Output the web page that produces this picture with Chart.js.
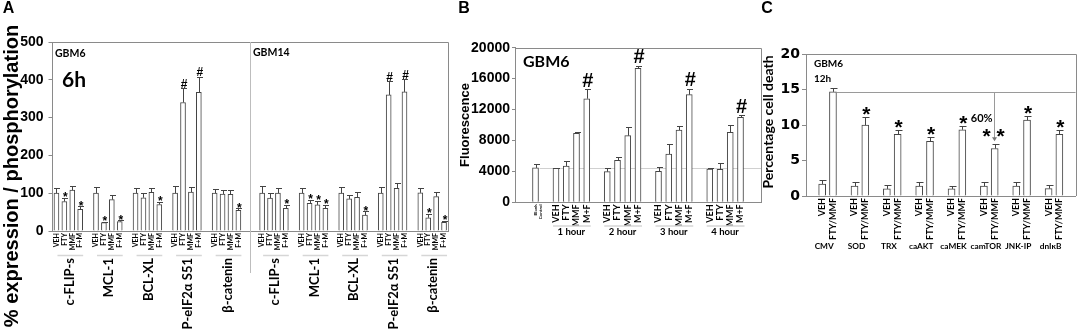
<!DOCTYPE html>
<html><head><meta charset="utf-8">
<script src="https://cdn.jsdelivr.net/npm/chart.js@4"></script>
<style>
html,body{margin:0;padding:0;background:#fff;}
#wrap{position:relative;width:1083px;height:334px;overflow:hidden;background:#fff;}
canvas{position:absolute;left:0;top:0;}
</style></head><body>
<div id="wrap">
<canvas id="cA" width="1083" height="334"></canvas>
<canvas id="cB" width="1083" height="334"></canvas>
<canvas id="cC" width="1083" height="334"></canvas>
</div>
<script>
// ---------------- Panel A data ----------------
const aTreatments = ['VEH', 'FTY', 'MMF', 'F+M'];
const aTargets = ['c-FLIP-s', 'MCL-1', 'BCL-XL', 'P-eIF2α S51', 'β-catenin'];
const aLines = ['GBM6', 'GBM14'];
const aGbm6Values = [100, 78, 108, 57, 100, 22, 83, 25, 100, 88, 102, 70, 100, 340, 103, 367, 100, 98, 97, 55];
const aGbm6Errors = [15, 9, 12, 8, 16, 3, 12, 3, 14, 12, 13, 6, 18, 37, 14, 40, 12, 11, 12, 5];
const aGbm6Marks = ['', '*', '', '*', '', '*', '', '*', '', '', '', '*', '', '#', '', '#', '', '', '', '*'];
const aGbm14Values = [100, 87, 100, 60, 100, 73, 69, 60, 100, 85, 89, 42, 100, 360, 113, 368, 101, 35, 91, 23];
const aGbm14Errors = [18, 13, 13, 10, 15, 9, 10, 9, 16, 10, 13, 10, 16, 36, 13, 33, 14, 10, 11, 3];
const aGbm14Marks = ['', '', '', '*', '', '*', '*', '*', '', '', '', '*', '', '#', '', '#', '', '*', '', '*'];
const aYTicks = [0, 100, 200, 300, 400, 500];

// ---------------- Panel B data ----------------
const bHours = ['1 hour', '2 hour', '3 hour', '4 hour'];
const bTreatments = ['VEH', 'FTY', 'MMF', 'M+F'];
const bBlankLabel = ['Blank', 'Control'];
const bBlankValue = 4450;
const bBlankError = 500;
const bValues = [4400, 4700, 8930, 13400, 3960, 5430, 8620, 17330, 4010, 6250, 9350, 13920, 4310, 4270, 9060, 11000];
const bErrors = [100, 700, 150, 1200, 450, 400, 1100, 300, 550, 1300, 500, 700, 100, 750, 900, 250];
const bMarks = ['', '', '', '#', '', '', '', '#', '', '', '', '#', '', '', '', '#'];
const bYTicks = [0, 2000, 4000, 6000, 8000, 10000, 12000, 14000, 16000, 18000, 20000];

// ---------------- Panel C data ----------------
const cConstructs = ['CMV', 'SOD', 'TRX', 'caAKT', 'caMEK', 'camTOR', 'JNK-IP', 'dnIκB'];
const cTreatments = ['VEH', 'FTY/MMF'];
const cVehValues = [1.7, 1.4, 1.0, 1.4, 1.0, 1.4, 1.4, 1.05];
const cVehErrors = [0.6, 0.6, 0.6, 0.6, 0.45, 0.6, 0.6, 0.45];
const cComboValues = [14.7, 10.0, 8.7, 7.7, 9.35, 6.7, 10.7, 8.7];
const cComboErrors = [0.6, 1.1, 0.6, 0.6, 0.6, 0.6, 0.6, 0.6];
const cMarks = ['', '*', '*', '*', '*', '**', '*', '*'];
const cYTicks = [0, 5, 10, 15, 20];

// ---------------- helpers ----------------
const AXIS = '#8a8a8a', BAR = '#444';
function errBars(chart, errs, capHalf) {
  const ctx = chart.ctx, y = chart.scales.y, xs = chart.scales.x;
  const data = chart.data.datasets[0].data;
  ctx.save(); ctx.strokeStyle = BAR; ctx.lineWidth = 1;
  data.forEach((v, i) => {
    if (v == null || errs[i] == null) return;
    const x = Math.round(xs.getPixelForValue(i)) + 0.5;
    const y0 = y.getPixelForValue(v), y1 = Math.round(y.getPixelForValue(v + errs[i])) + 0.5;
    ctx.beginPath(); ctx.moveTo(x, y0); ctx.lineTo(x, y1);
    ctx.moveTo(x - capHalf, y1); ctx.lineTo(x + capHalf + 1, y1); ctx.stroke();
  });
  ctx.restore();
}
function mark(ctx, txt, x, yc, size) {
  ctx.save(); ctx.fillStyle = '#000';
  ctx.font = 'bold ' + size + 'px "Liberation Sans"';
  ctx.textAlign = 'center'; ctx.textBaseline = 'alphabetic';
  const yb = txt === '#' ? yc + 0.36 * size : yc + 0.6 * size;
  ctx.fillText(txt, x, yb); ctx.restore();
}
function text(ctx, t, x, y, font, align, rot) {
  ctx.save(); ctx.fillStyle = '#000'; ctx.translate(x, y);
  if (rot) ctx.rotate(-Math.PI / 2);
  ctx.font = font; ctx.textAlign = align || 'left'; ctx.textBaseline = 'middle';
  ctx.fillText(t, 0, 0); ctx.restore();
}
function frame(chart) {
  const ctx = chart.ctx, ca = chart.chartArea;
  ctx.save(); ctx.strokeStyle = AXIS; ctx.lineWidth = 1; ctx.beginPath();
  ctx.moveTo(ca.left, Math.round(ca.top) + 0.5);
  ctx.lineTo(Math.round(ca.right) + 0.5, Math.round(ca.top) + 0.5);
  ctx.lineTo(Math.round(ca.right) + 0.5, ca.bottom);
  ctx.stroke(); ctx.restore();
}
const plainNum = v => String(v);
const common = { responsive: false, animation: false, devicePixelRatio: 1, maintainAspectRatio: false,
  events: [], plugins: { legend: { display: false }, tooltip: { enabled: false } } };

// ---------------- Panel A build ----------------
const aLabels = [], aData = [], aErr = [], aMarks = [], aGroups = [];
let aDivider = 0;
const aVals = [aGbm6Values, aGbm14Values], aErrs = [aGbm6Errors, aGbm14Errors], aMk = [aGbm6Marks, aGbm14Marks];
function aBlank() { aLabels.push(''); aData.push(null); aErr.push(null); aMarks.push(''); }
aLines.forEach((line, li) => {
  if (li > 0) { aDivider = aLabels.length; aBlank(); aBlank(); }
  aTargets.forEach((t, ti) => {
    if (ti > 0) aBlank();
    const first = aLabels.length;
    aTreatments.forEach((tr, k) => {
      aLabels.push(tr); aData.push(aVals[li][ti * 4 + k]); aErr.push(aErrs[li][ti * 4 + k]); aMarks.push(aMk[li][ti * 4 + k]);
    });
    aGroups.push({ first, last: aLabels.length - 1, text: t });
  });
});

const pluginA = { id: 'pA', afterDraw(chart) {
  const ctx = chart.ctx, ca = chart.chartArea, xs = chart.scales.x, y = chart.scales.y;
  frame(chart);
  errBars(chart, aErr, 2.5);
  aData.forEach((v, i) => {
    if (!aMarks[i]) return;
    const yc = y.getPixelForValue(v + aErr[i]) - (aMarks[i] === '#' ? 5 : 4);
    mark(ctx, aMarks[i], xs.getPixelForValue(i) + 1, yc, 12);
  });
  const xd = Math.round((xs.getPixelForValue(aDivider) + xs.getPixelForValue(aDivider + 1)) / 2) + 0.5;
  ctx.save(); ctx.strokeStyle = '#bdbdbd'; ctx.lineWidth = 1;
  ctx.beginPath(); ctx.moveTo(xd, ca.top); ctx.lineTo(xd, 273); ctx.stroke();
  aGroups.forEach(g => {
    const x0 = xs.getPixelForValue(g.first), x1 = xs.getPixelForValue(g.last);
    ctx.strokeStyle = '#d6d6d6'; ctx.lineWidth = 1.5;
    ctx.beginPath(); ctx.moveTo(x0 + 1, 255.5); ctx.lineTo(x1 + 3, 255.5); ctx.stroke();
    text(ctx, g.text, (x0 + x1) / 2 + 1, 258, 'bold 13px Lato', 'right', true);
  });
  ctx.restore();
  text(ctx, 'GBM6', 55, 54, 'bold 10.5px Lato');
  text(ctx, '6h', 62, 80, 'bold 21px Lato');
  text(ctx, 'GBM14', 253, 53, 'bold 10.5px Lato');
  text(ctx, '% expression / phosphorylation', 12, 176, 'bold 20px "Liberation Sans"', 'center', true);
  text(ctx, 'A', 8.5, 8.5, 'bold 16px "Liberation Sans"', 'center');
} };

new Chart(document.getElementById('cA'), {
  type: 'bar',
  data: { labels: aLabels, datasets: [{ data: aData, backgroundColor: '#fff', borderColor: BAR, borderWidth: 1, barThickness: 5 }] },
  options: Object.assign({}, common, {
    layout: { padding: { left: 0, right: 635, top: 42, bottom: 73 } },
    scales: {
      x: { offset: true, grid: { display: false, drawTicks: false }, border: { color: AXIS },
        ticks: { autoSkip: false, minRotation: 90, maxRotation: 90, padding: 2, color: '#000', font: { family: 'Lato', size: 7, weight: 'bold' } },
        afterFit: s => { s.height = 30; } },
      y: { min: 0, max: 500, afterBuildTicks: s => { s.ticks = aYTicks.map(v => ({ value: v })); },
        ticks: { padding: 5, color: '#000', callback: plainNum, font: { family: 'Liberation Sans', size: 14, weight: 'bold' } },
        grid: { drawOnChartArea: false, tickLength: 4, color: AXIS }, border: { color: AXIS },
        afterFit: s => { s.width = 52.5; } }
    }
  }),
  plugins: [pluginA]
});

// ---------------- Panel B build ----------------
const bLabels = ['', '', bBlankLabel], bData = [null, null, bBlankValue], bErr = [null, null, bBlankError], bMk = ['', '', ''], bGroups = [];
const bBlankIdx = 2;
bHours.forEach((h, hi) => {
  bLabels.push(''); bData.push(null); bErr.push(null); bMk.push('');
  const first = bLabels.length;
  bTreatments.forEach((t, k) => { bLabels.push(t); bData.push(bValues[hi * 4 + k]); bErr.push(bErrors[hi * 4 + k]); bMk.push(bMarks[hi * 4 + k]); });
  bGroups.push({ first, last: bLabels.length - 1, text: h });
});
bLabels.push('', ''); bData.push(null, null); bErr.push(null, null); bMk.push('', '');

const pluginB = { id: 'pB',
  beforeDatasetsDraw(chart) {
    const ctx = chart.ctx, ca = chart.chartArea, xs = chart.scales.x, y = chart.scales.y;
    const yl = Math.round(y.getPixelForValue(bBlankValue)) + 0.5;
    ctx.save(); ctx.strokeStyle = '#d0d0d0'; ctx.lineWidth = 1;
    ctx.beginPath(); ctx.moveTo(xs.getPixelForValue(bBlankIdx) + 4, yl); ctx.lineTo(ca.right, yl); ctx.stroke(); ctx.restore();
  },
  afterDraw(chart) {
    const ctx = chart.ctx, xs = chart.scales.x, y = chart.scales.y;
    frame(chart);
    errBars(chart, bErr, 2.5);
    bData.forEach((v, i) => {
      if (!bMk[i]) return;
      mark(ctx, bMk[i], xs.getPixelForValue(i) + 1, y.getPixelForValue(v + bErr[i]) - 10, 20);
    });
    ctx.save();
    bGroups.forEach(g => {
      const x0 = xs.getPixelForValue(g.first), x1 = xs.getPixelForValue(g.last);
      ctx.strokeStyle = '#d6d6d6'; ctx.lineWidth = 1.5;
      ctx.beginPath(); ctx.moveTo(x0 - 3, 226); ctx.lineTo(x1 + 4, 226); ctx.stroke();
      text(ctx, g.text, (x0 + x1) / 2, 232, 'bold 9.5px Lato', 'center');
    });
    ctx.restore();
    text(ctx, 'GBM6', 523, 62, 'bold 16px Lato');
    text(ctx, 'Fluorescence', 465, 125, 'bold 13px "Liberation Sans"', 'center', true);
    text(ctx, 'B', 464, 9, 'bold 16px "Liberation Sans"', 'center');
  } };

new Chart(document.getElementById('cB'), {
  type: 'bar',
  data: { labels: bLabels, datasets: [{ data: bData, backgroundColor: '#fff', borderColor: BAR, borderWidth: 1, barThickness: 6 }] },
  options: Object.assign({}, common, {
    layout: { padding: { left: 465, right: 322, top: 47.7, bottom: 106.7 } },
    scales: {
      x: { offset: false, grid: { display: false, drawTicks: false }, border: { color: AXIS },
        ticks: { autoSkip: false, minRotation: 90, maxRotation: 90, padding: 2, color: '#000',
          font: c => c.index === bBlankIdx ? { family: 'Lato', size: 4.5, weight: 'bold' } : { family: 'Lato', size: 9, weight: 'bold' } },
        afterFit: s => { s.height = 25; } },
      y: { min: 0, max: 20000, afterBuildTicks: s => { s.ticks = bYTicks.map(v => ({ value: v })); },
        ticks: { padding: 2, color: '#000', callback: plainNum, font: { family: 'Liberation Sans', size: 14, weight: 'bold' } },
        grid: { drawOnChartArea: false, tickLength: 3, color: AXIS }, border: { color: AXIS },
        afterFit: s => { s.width = 50; } }
    }
  }),
  plugins: [pluginB]
});

// ---------------- Panel C build ----------------
const cLabels = [''], cData = [null], cErr = [null], cMk = [''], cGroups = [];
cConstructs.forEach((c, ci) => {
  if (ci > 0) { cLabels.push(''); cData.push(null); cErr.push(null); cMk.push(''); }
  const first = cLabels.length;
  cLabels.push(cTreatments[0]); cData.push(cVehValues[ci]); cErr.push(cVehErrors[ci]); cMk.push('');
  cLabels.push(cTreatments[1]); cData.push(cComboValues[ci]); cErr.push(cComboErrors[ci]); cMk.push(cMarks[ci]);
  cGroups.push({ first, last: first + 1, text: c });
});
cLabels.push(''); cData.push(null); cErr.push(null); cMk.push('');

const pluginC = { id: 'pC', afterDraw(chart) {
  const ctx = chart.ctx, ca = chart.chartArea, xs = chart.scales.x, y = chart.scales.y;
  frame(chart);
  errBars(chart, cErr, 3);
  const refIdx = cGroups[0].last, camIdx = cGroups[5].last;
  const yr = Math.round(y.getPixelForValue(cData[refIdx])) + 0.5;
  const xc = Math.round(xs.getPixelForValue(camIdx)) - 0.5;
  const tip = y.getPixelForValue(cData[camIdx] + cErr[camIdx]) - 3;
  ctx.save(); ctx.strokeStyle = '#9a9a9a'; ctx.fillStyle = '#777'; ctx.lineWidth = 1;
  ctx.beginPath(); ctx.moveTo(xs.getPixelForValue(refIdx) + 4, yr); ctx.lineTo(ca.right, yr);
  ctx.moveTo(xc, yr); ctx.lineTo(xc, tip - 3); ctx.stroke();
  ctx.beginPath(); ctx.moveTo(xc - 2.5, tip - 4); ctx.lineTo(xc + 2.5, tip - 4); ctx.lineTo(xc, tip); ctx.closePath(); ctx.fill();
  ctx.restore();
  cData.forEach((v, i) => {
    if (!cMk[i]) return;
    const xb = xs.getPixelForValue(i), yc = y.getPixelForValue(v + cErr[i]);
    if (cMk[i] === '**') { mark(ctx, '*', xb - 8, yc - 13.5, 21); mark(ctx, '*', xb + 6, yc - 13.5, 21); }
    else mark(ctx, cMk[i], xb + 1, yc - 8.5, 21);
  });
  cGroups.forEach(g => text(ctx, g.text, xs.getPixelForValue(g.first) + 2, 246, 'bold 8.3px Lato', 'center'));
  text(ctx, '60%', xs.getPixelForValue(camIdx) - 13, y.getPixelForValue(11), 'bold 11px Lato', 'center');
  text(ctx, 'GBM6', 814, 63.5, 'bold 10px Lato');
  text(ctx, '12h', 814, 79, 'bold 10px Lato');
  text(ctx, 'Percentage cell death', 768, 122, 'bold 14px Lato', 'center', true);
  text(ctx, 'C', 767, 9, 'bold 16px "Liberation Sans"', 'center');
} };

new Chart(document.getElementById('cC'), {
  type: 'bar',
  data: { labels: cLabels, datasets: [{ data: cData, backgroundColor: '#fff', borderColor: BAR, borderWidth: 1, barThickness: 7 }] },
  options: Object.assign({}, common, {
    layout: { padding: { left: 766, right: 2, top: 54.3, bottom: 93 } },
    scales: {
      x: { offset: true, grid: { display: false, drawTicks: false }, border: { color: AXIS },
        ticks: { autoSkip: false, minRotation: 90, maxRotation: 90, padding: 2, color: '#000', font: { family: 'Lato', size: 9, weight: 'bold' } },
        afterFit: s => { s.height = 45; } },
      y: { min: 0, max: 20, afterBuildTicks: s => { s.ticks = cYTicks.map(v => ({ value: v })); },
        ticks: { padding: 2, color: '#000', callback: plainNum, font: { family: 'DejaVu Sans', size: 14, weight: 'bold' } },
        grid: { drawOnChartArea: false, tickLength: 4, color: AXIS }, border: { color: AXIS },
        afterFit: s => { s.width = 40; } }
    }
  }),
  plugins: [pluginC]
});
</script>
</body></html>
